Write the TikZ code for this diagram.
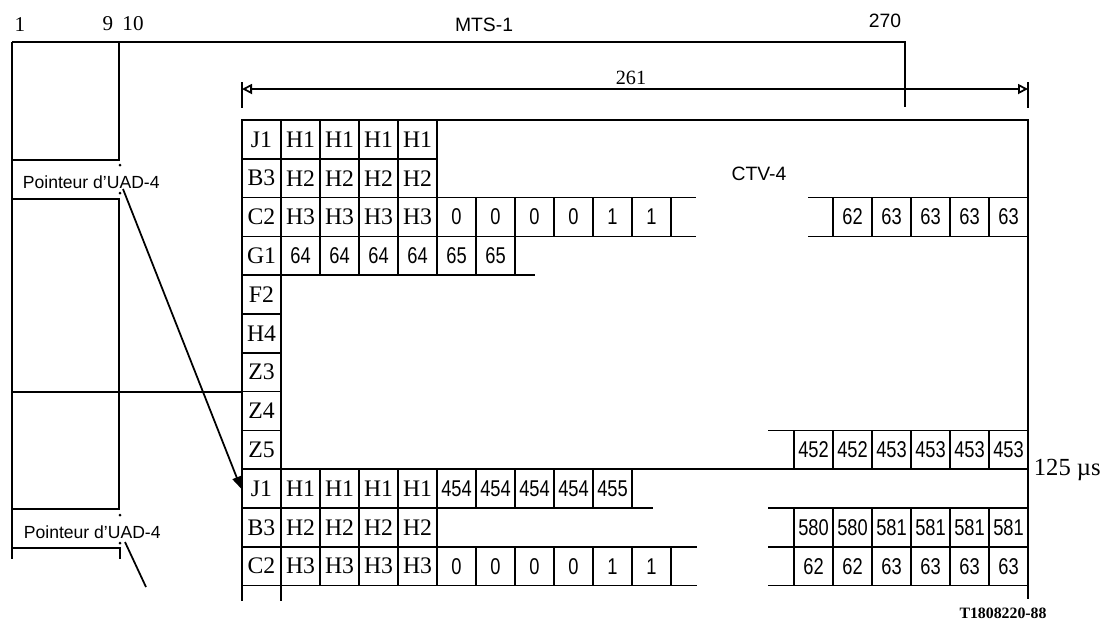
\documentclass[tikz,border=0pt]{standalone}
\usepackage{fontspec}
\setmainfont{Liberation Serif}
\setsansfont{Liberation Sans}
\newfontfamily\narrowsans[FakeStretch=0.8]{Liberation Sans}
\usetikzlibrary{arrows.meta}

\newcommand{\cellserif}{\fontsize{13.5}{14}\selectfont}
\newcommand{\cellsans}{\narrowsans\fontsize{13}{14}\selectfont}

\begin{document}
\begin{tikzpicture}[x=0.2mm, y=-0.2mm, line width=1pt,
  cell/.style={draw, minimum width=7.8mm, minimum height=7.76mm, inner sep=0pt, font=\cellserif},
  numcell/.style={cell, font=\cellsans},
  lbl/.style={font=\sffamily\fontsize{11}{12}\selectfont, inner sep=0pt},
  toplbl/.style={font=\fontsize{12}{13}\selectfont, inner sep=0pt},
  ptrlbl/.style={font=\sffamily\fontsize{10}{12}\selectfont, anchor=west, inner sep=0pt},
  dimtip/.style={{Triangle[open,length=2mm,width=2mm]}-{Triangle[open,length=2mm,width=2mm]}}]
  \useasboundingbox (0,0) rectangle (1109,621);

  % column numbers and MTS-1 bracket
  \node[toplbl] (n1) at (20,25) {1};
  \node[toplbl] (n9) at (108,24) {9};
  \node[toplbl] (n10) at (133,24) {10};
  \node[lbl] (mts) at (484,25) {MTS-1};
  \node[lbl] (n270) at (885,21) {270};
  \draw (12,42) -- (905,42) -- (905,107);

  % left column of section overhead
  \draw (12,42) -- (12,559);
  \draw (12,160) -- (119,160) -- (119,42);
  \draw (12,199) -- (119,199) -- (119,509) -- (12,509);
  \draw (12,392) -- (242,392);
  \draw (12,548) -- (120,548) -- (120,559);
  \foreach \y in {165,193,515,543}
    \fill (120,\y) circle[radius=0.3mm];
  \node[ptrlbl] (ptrA) at (22,182) {Pointeur d’UAD-4};
  \node[ptrlbl] (ptrB) at (23,532) {Pointeur d’UAD-4};
  \coordinate (ptrAend) at (123,189);
  \coordinate (ptrBend) at (125,542);
  \coordinate (ptrBfree) at (146,587);

  % 261 columns of the VC-4
  \coordinate (dimL) at (242,89);
  \coordinate (dimR) at (1028,89);
  \draw (242,82) -- (242,108);
  \draw (1028,82) -- (1028,108);
  \draw[dimtip] (dimL) -- (dimR);
  \node[font=\fontsize{11.5}{12}\selectfont, inner sep=0pt] (n261) at (631,78) {261};
  \node[lbl] (ctv) at (759,174) {CTV-4};

  % frame outline
  \draw (242,120) -- (1028,120) -- (1028,599);

  % first frame
  \foreach \t [count=\c from 0] in {J1,H1,H1,H1,H1}
    \node[cell] (a0-\c) at ({261.5+39*\c},139.4) {\t};
  \foreach \t [count=\c from 0] in {B3,H2,H2,H2,H2}
    \node[cell] (a1-\c) at ({261.5+39*\c},178.2) {\t};
  \foreach \t [count=\c from 0] in {C2,H3,H3,H3,H3}
    \node[cell] (a2-\c) at ({261.5+39*\c},217) {\t};
  \foreach \t [count=\c from 5] in {0,0,0,0,1,1}
    \node[numcell] (a2-\c) at ({261.5+39*\c},217) {\t};
  \draw (671,197.6) -- (696,197.6) (671,236.4) -- (696,236.4);
  \foreach \t [count=\c from 0] in {62,63,63,63,63}
    \node[numcell] (a2r-\c) at ({852.5+39*\c},217) {\t};
  \draw (808,197.6) -- (833,197.6) (808,236.4) -- (833,236.4);
  \node[cell] (a3-0) at (261.5,255.8) {G1};
  \foreach \t [count=\c from 1] in {64,64,64,64,65,65}
    \node[numcell] (a3-\c) at ({261.5+39*\c},255.8) {\t};
  \draw (515,275.2) -- (535,275.2);
  \foreach \t [count=\r from 4] in {F2,H4,Z3,Z4,Z5}
    \node[cell] (a\r-0) at (261.5,{139.4+38.8*\r}) {\t};
  \foreach \t [count=\c from 0] in {452,452,453,453,453,453}
    \node[numcell] (a8r-\c) at ({813.5+39*\c},449.8) {\t};
  \draw (768,430.4) -- (794,430.4);
  \draw (242,469.2) -- (1028,469.2);
  \node[font=\fontsize{14}{15}\selectfont, anchor=west, inner sep=0pt] (t125) at (1033,470) {125 µs};

  % second frame
  \foreach \t [count=\c from 0] in {J1,H1,H1,H1,H1}
    \node[cell] (b0-\c) at ({261.5+39*\c},488.6) {\t};
  \foreach \t [count=\c from 5] in {454,454,454,454,455}
    \node[numcell] (b0-\c) at ({261.5+39*\c},488.6) {\t};
  \draw (632,508) -- (653,508);
  \foreach \t [count=\c from 0] in {B3,H2,H2,H2,H2}
    \node[cell] (b1-\c) at ({261.5+39*\c},527.4) {\t};
  \foreach \t [count=\c from 0] in {580,580,581,581,581,581}
    \node[numcell] (b1r-\c) at ({813.5+39*\c},527.4) {\t};
  \draw (768,508) -- (794,508) (768,546.8) -- (794,546.8);
  \foreach \t [count=\c from 0] in {C2,H3,H3,H3,H3}
    \node[cell] (b2-\c) at ({261.5+39*\c},566.2) {\t};
  \foreach \t [count=\c from 5] in {0,0,0,0,1,1}
    \node[numcell] (b2-\c) at ({261.5+39*\c},566.2) {\t};
  \draw (671,546.8) -- (697,546.8) (671,585.6) -- (697,585.6);
  \foreach \t [count=\c from 0] in {62,62,63,63,63,63}
    \node[numcell] (b2r-\c) at ({813.5+39*\c},566.2) {\t};
  \draw (768,585.6) -- (794,585.6);
  \draw (242,585.6) -- (242,601) (281,585.6) -- (281,601);

  % pointers
  \draw[-{Triangle[length=2.4mm,width=1.8mm]}] (ptrAend) -- (b0-0.west);
  \draw (ptrBend) -- (ptrBfree);

  \node[font=\bfseries\fontsize{9}{10}\selectfont, inner sep=0pt] (fig) at (1003,613) {T1808220-88};
\end{tikzpicture}
\end{document}
